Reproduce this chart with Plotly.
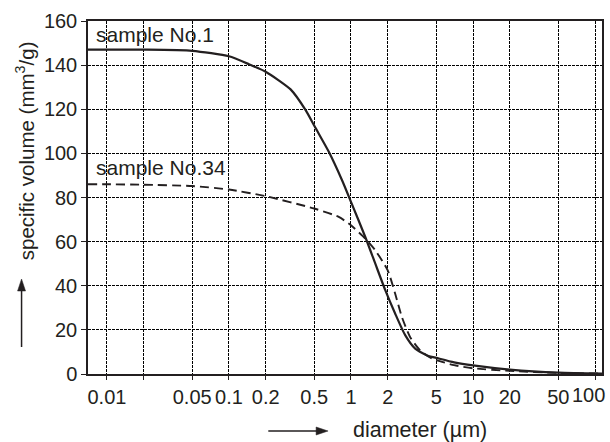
import plotly.graph_objects as go

# Cumulative specific volume vs. diameter for two samples
diam_no1 = [0.007, 0.01, 0.02, 0.05, 0.1, 0.146, 0.2, 0.32, 0.425, 0.51, 0.658, 0.845, 1.0, 1.31,
            1.58, 1.91, 2.30, 2.78, 3.36, 4.31, 5.0, 7.0, 10, 20, 50, 114]
vol_no1 = [147, 147, 147, 146.5, 144, 140.4, 137, 129, 119.6, 111.7, 100.7, 87.8, 78, 62.1,
           50.1, 38, 27.4, 17.6, 11.5, 8.2, 7.3, 5.3, 3.9, 2.0, 0.6, 0.2]

diam_no34 = [0.007, 0.01, 0.02, 0.05, 0.1, 0.2, 0.5, 0.794, 1.0, 1.31, 1.58, 2.0, 2.30, 2.61,
             3.05, 3.69, 4.6, 5.0, 7.0, 10, 20, 50, 114]
vol_no34 = [86, 86, 85.8, 85.2, 83.6, 80.6, 75, 71.2, 67.4, 61.4, 56.1, 47, 36.5, 25.9,
            16.8, 10.7, 7, 6.3, 4.0, 2.6, 1.4, 0.5, 0.2]

# Labelled x ticks; 0.02 and 100 get grid lines and tick marks only
x_tickvals = [0.01, 0.05, 0.1, 0.2, 0.5, 1, 2, 5, 10, 20, 50]
x_ticktext = ["0.01", "0.05", "0.1", "0.2", "0.5", "1", "2", "5", "10", "20", "50"]
x_extra_grid = [0.02, 100]
y_tickvals = [0, 20, 40, 60, 80, 100, 120, 140, 160]

ink = "#231f20"
font = "Liberation Sans, Arial, sans-serif"
grid_dash = "2.5px,1.5px"

W, H = 610, 442
ML, MR, MT, MB = 88, 6, 21, 68
PW, PH = W - ML - MR, H - MT - MB


def px(x):
    """Horizontal pixel position -> paper coordinate."""
    return (x - ML) / PW


def py(y):
    """Vertical pixel position -> paper coordinate."""
    return (H - MB - y) / PH


fig = go.Figure()
fig.add_trace(go.Scatter(x=diam_no1, y=vol_no1, mode="lines",
                         line=dict(color=ink, width=2.2, shape="spline", smoothing=0.6),
                         showlegend=False, hoverinfo="skip"))
fig.add_trace(go.Scatter(x=diam_no34, y=vol_no34, mode="lines",
                         line=dict(color=ink, width=1.9, dash="9px,5px", shape="spline", smoothing=0.6),
                         showlegend=False, hoverinfo="skip"))

fig.update_layout(
    width=W, height=H,
    margin=dict(l=ML, r=MR, t=MT, b=MB),
    paper_bgcolor="white", plot_bgcolor="white",
    font=dict(family=font, size=20, color=ink),
    xaxis=dict(type="log", range=[-2.155, 2.057],
               tickvals=x_tickvals, ticktext=x_ticktext,
               showgrid=True, gridcolor="#000000", gridwidth=1, griddash=grid_dash,
               minor=dict(tickvals=x_extra_grid, showgrid=True, gridcolor="#000000",
                          gridwidth=1, griddash=grid_dash, ticks="outside", ticklen=4,
                          tickcolor=ink),
               showline=True, linecolor=ink, linewidth=1.5, mirror=True,
               ticks="outside", ticklen=4, tickcolor=ink,
               zeroline=False, tickfont=dict(size=20)),
    yaxis=dict(range=[0, 160], tickvals=y_tickvals,
               showgrid=True, gridcolor="#000000", gridwidth=1, griddash=grid_dash,
               showline=True, linecolor=ink, linewidth=1.5, mirror=True,
               ticks="outside", ticklen=5, tickcolor=ink,
               zeroline=False, tickfont=dict(size=20)),
)

# Last x tick label, nudged inside the figure edge
fig.add_annotation(x=2, y=py(395), xref="x", yref="paper", text="100", xshift=-7,
                   showarrow=False, xanchor="center", yanchor="middle",
                   font=dict(size=20, color=ink))

# Curve labels
fig.add_annotation(x=-2.109, y=154, xref="x", yref="y", text="sample No.1",
                   showarrow=False, xanchor="left", yanchor="middle",
                   font=dict(size=21, color=ink))
fig.add_annotation(x=-2.109, y=93.5, xref="x", yref="y", text="sample No.34",
                   showarrow=False, xanchor="left", yanchor="middle",
                   font=dict(size=21, color=ink))

# Axis titles
fig.add_annotation(x=px(25), y=py(151), xref="paper", yref="paper",
                   text="specific volume (mm<sup>3</sup>/g)", textangle=-90,
                   showarrow=False, xanchor="center", yanchor="middle",
                   font=dict(size=20.5, color=ink))
fig.add_annotation(x=px(352), y=py(430), xref="paper", yref="paper",
                   text="diameter (µm)", showarrow=False,
                   xanchor="left", yanchor="middle", font=dict(size=21.5, color=ink))

# Direction arrows next to the axis titles
arrow = dict(xref="paper", yref="paper", line=dict(color=ink, width=1.5))
fig.add_shape(type="line", x0=px(21.3), x1=px(21.3), y0=py(347), y1=py(290), **arrow)
fig.add_shape(type="path",
              path=f"M {px(21.3)} {py(279)} L {px(17.3)} {py(291)} L {px(25.3)} {py(291)} Z",
              xref="paper", yref="paper", fillcolor=ink, line=dict(color=ink, width=0.5))
fig.add_shape(type="line", x0=px(269), x1=px(318), y0=py(431), y1=py(431), **arrow)
fig.add_shape(type="path",
              path=f"M {px(329)} {py(431)} L {px(317)} {py(427)} L {px(317)} {py(435)} Z",
              xref="paper", yref="paper", fillcolor=ink, line=dict(color=ink, width=0.5))

fig.write_html("out.html")
